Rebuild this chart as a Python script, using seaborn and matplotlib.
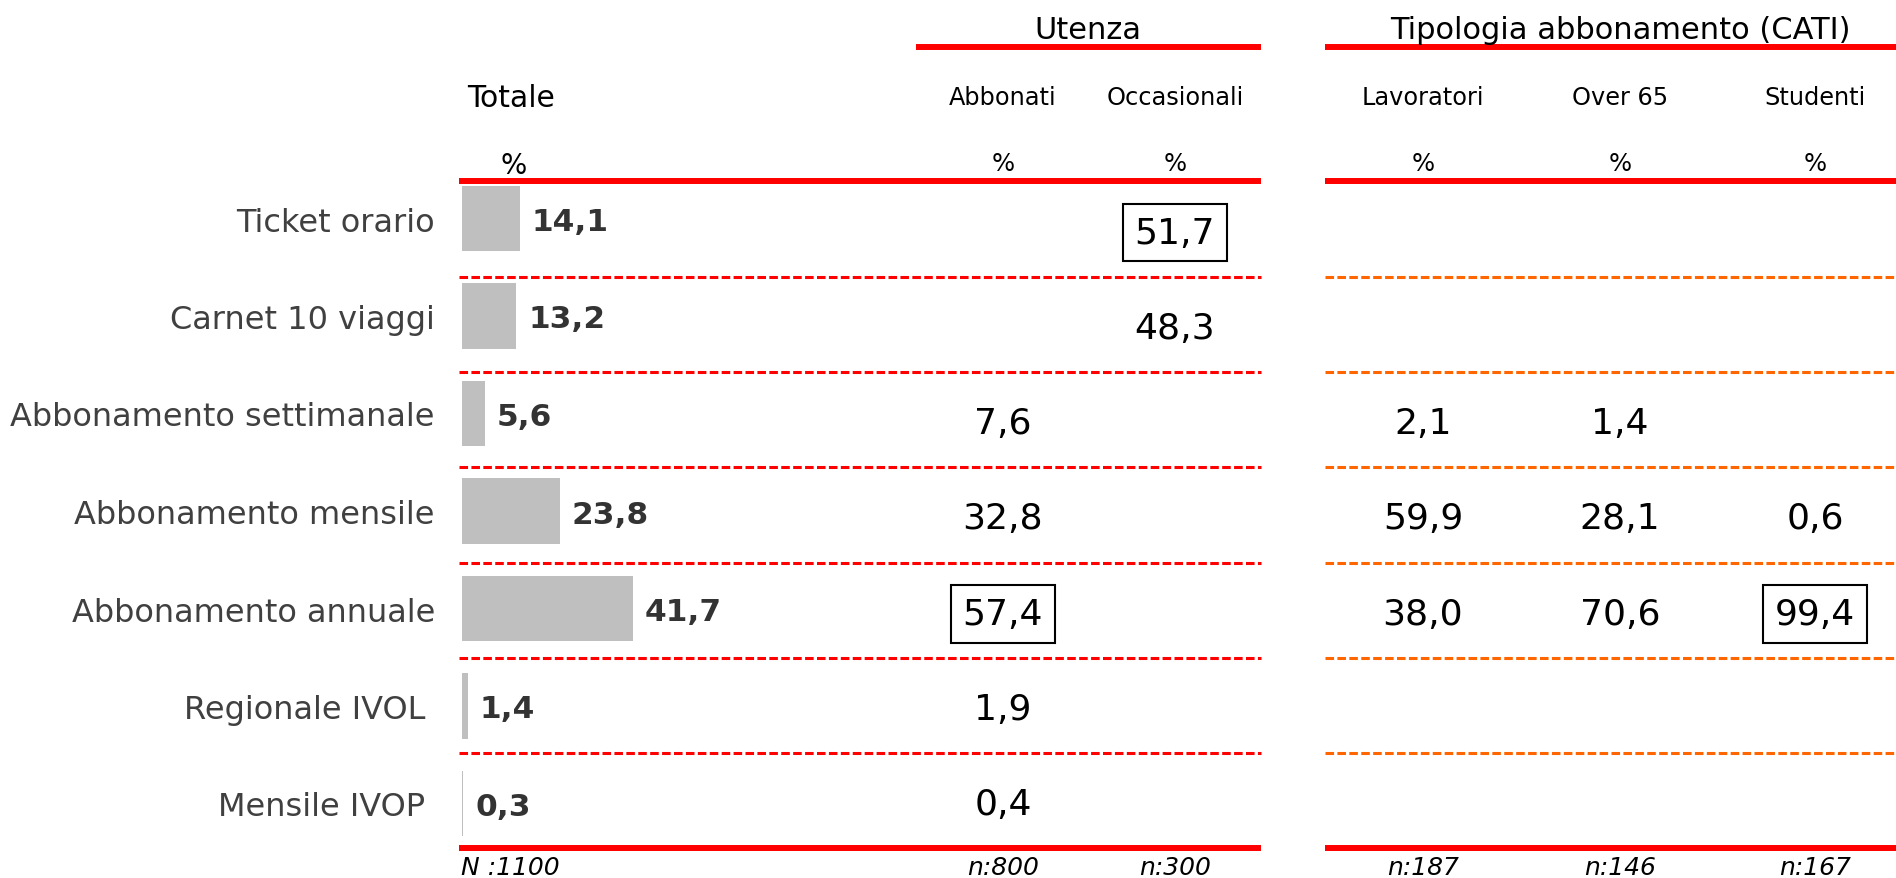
import matplotlib.pyplot as plt
import seaborn as sns
import pandas as pd

categories = ["Ticket orario", "Carnet 10 viaggi", "Abbonamento settimanale",
              "Abbonamento mensile", "Abbonamento annuale", "Regionale IVOL ", "Mensile IVOP "]
totale = [14.1, 13.2, 5.6, 23.8, 41.7, 1.4, 0.3]

groups = ["Utenza", "Tipologia abbonamento (CATI)"]
columns = ["Abbonati", "Occasionali", "Lavoratori", "Over 65", "Studenti"]
abbonati = [None, None, 7.6, 32.8, 57.4, 1.9, 0.4]
occasionali = [51.7, 48.3, None, None, None, None, None]
lavoratori = [None, None, 2.1, 59.9, 38.0, None, None]
over_65 = [None, None, 1.4, 28.1, 70.6, None, None]
studenti = [None, None, None, 0.6, 99.4, None, None]

sample_total = "N :1100"
sample_sizes = ["n:800", "n:300", "n:187", "n:146", "n:167"]
highlighted = [("Occasionali", "Ticket orario"), ("Abbonati", "Abbonamento annuale"),
               ("Studenti", "Abbonamento annuale")]

table = pd.DataFrame({"Abbonati": abbonati, "Occasionali": occasionali,
                      "Lavoratori": lavoratori, "Over 65": over_65,
                      "Studenti": studenti}, index=categories)
df = pd.DataFrame({"categoria": categories, "totale": totale})


def fmt(v):
    return f"{v:.1f}".replace(".", ",")


sns.set_theme(style="white")
plt.rcParams["font.family"] = ["DejaVu Sans"]

# layout (pixels of the 1896x879 output)
W, H = 1896, 879
BAR_ROW0, BAR_ROW_H = 219.5, 97.5
TAB_ROW0, TAB_ROW_H = 230, 95.3
BAR_LEFT, PX_PER_PCT = 462, 4.1
col_x = [1003, 1175, 1423, 1620, 1815]
left_block = (459, 1261)
right_block = (1325, 1896)
group_lines = [(916, 1261), (1325, 1896)]
group_x = [1088, 1620]
RED, ORANGE = "#FF0000", "#FF6600"


def bar_row(py):
    return (py - BAR_ROW0) / BAR_ROW_H


def tab_row(py):
    return (py - TAB_ROW0) / TAB_ROW_H


fig = plt.figure(figsize=(W / 100, H / 100), dpi=100, facecolor="white")

# table overlay: x in pixels, y in table rows
ax = fig.add_axes([0, 0, 1, 1])
ax.set_xlim(0, W)
ax.set_ylim(tab_row(H), tab_row(0))
ax.axis("off")

n = len(categories)
for x0, x1 in [left_block, right_block]:
    ax.hlines([-0.5, n - 0.5], x0, x1, colors=RED, linewidth=4.3)
ax.hlines([i + 0.5 for i in range(n - 1)], *left_block, colors=RED,
          linewidth=2.2, linestyles=(0, (2.8, 1.1)))
ax.hlines([i + 0.5 for i in range(n - 1)], *right_block, colors=ORANGE,
          linewidth=2.2, linestyles=(0, (2.8, 1.1)))
for (x0, x1), gx, g in zip(group_lines, group_x, groups):
    ax.hlines(tab_row(48), x0, x1, colors=RED, linewidth=4.3)
    ax.text(gx, tab_row(39), g, ha="center", va="baseline", fontsize=22, color="black")

ax.text(467, tab_row(107), "Totale", ha="left", va="baseline", fontsize=21.5, color="black")
ax.text(514, tab_row(174), "%", ha="center", va="baseline", fontsize=20, color="black")
ax.text(461, tab_row(875), sample_total, ha="left", va="baseline", fontsize=18,
        style="italic", color="black")

for j, col in enumerate(columns):
    ax.text(col_x[j], tab_row(105), col, ha="center", va="baseline", fontsize=17.3, color="black")
    ax.text(col_x[j], tab_row(171), "%", ha="center", va="baseline", fontsize=17.5, color="black")
    ax.text(col_x[j], tab_row(875), sample_sizes[j], ha="center", va="baseline",
            fontsize=18, style="italic", color="black")
    for i, v in enumerate(table[col]):
        if pd.isna(v):
            continue
        box = None
        if (col, categories[i]) in highlighted:
            box = dict(boxstyle="square,pad=0.33", fc="none", ec="black", lw=1.5)
        ax.text(col_x[j], i, fmt(v), ha="center", va="center_baseline", fontsize=26,
                color="black", bbox=box)

# Totale bars: x in percent, y in bar rows
ax_bar = fig.add_axes([BAR_LEFT / W, 0, 1 - BAR_LEFT / W, 1])
sns.barplot(data=df, x="totale", y="categoria", color="#BFBFBF", saturation=1,
            width=0.67, linewidth=0, ax=ax_bar)
ax_bar.set_xlim(0, (W - BAR_LEFT) / PX_PER_PCT)
ax_bar.set_ylim(bar_row(H), bar_row(0))
ax_bar.patch.set_visible(False)
sns.despine(ax=ax_bar, left=True, bottom=True)
ax_bar.set_xticks([])
ax_bar.set_xlabel("")
ax_bar.set_ylabel("")
ax_bar.tick_params(axis="y", length=0, pad=(BAR_LEFT - 435) * 0.72,
                   labelsize=23, labelcolor="#404040")

for i, v in enumerate(totale):
    ax_bar.text(v + 12 / PX_PER_PCT, i, fmt(v), ha="left", va="center_baseline",
                fontsize=22.5, fontweight="bold", color="#333333")

fig.savefig("out.png", dpi=100, facecolor="white")
